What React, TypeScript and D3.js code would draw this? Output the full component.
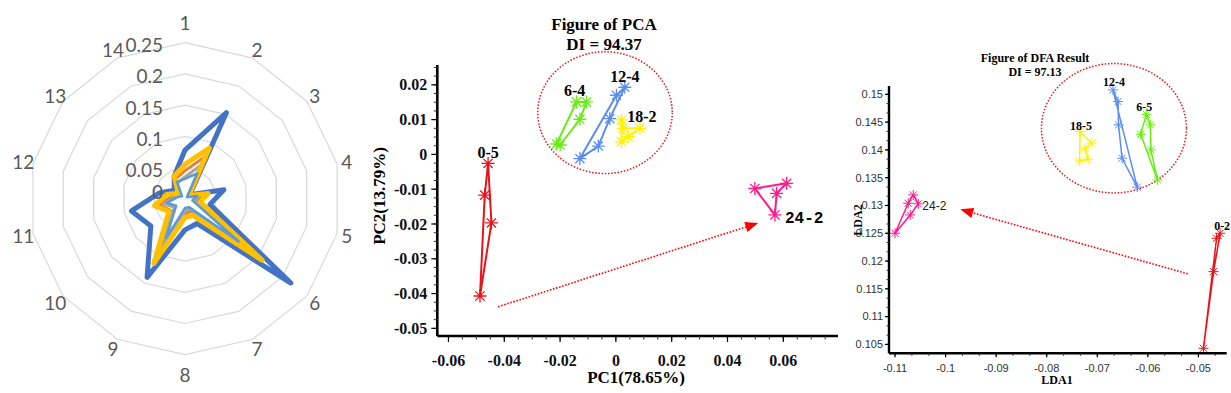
import React from 'react';
import * as d3 from 'd3';

// ---------- radar data ----------
const radarAxes = ['1', '2', '3', '4', '5', '6', '7', '8', '9', '10', '11', '12', '13', '14'];
const radarRings = [0, 0.05, 0.1, 0.15, 0.2, 0.25];
const radarRingLabels = ['0', '0.05', '0.1', '0.15', '0.2', '0.25'];
const radarBlue = [0.078, 0.153, 0.01, 0.064, 0.041, 0.217, 0.044, 0.05, 0.14, 0.07, 0.088, 0.042, 0.022, 0.04];
const radarOrange = [0.045, 0.075, 0.006, 0.03, 0.02, 0.145, 0.022, 0.025, 0.1, 0.03, 0.042, 0.02, 0.01, 0.035];
const radarGray = [0.035, 0.06, 0.005, 0.025, 0.015, 0.13, 0.018, 0.02, 0.088, 0.022, 0.035, 0.015, 0.008, 0.028];
const radarGold = [0.055, 0.09, 0.008, 0.038, 0.025, 0.158, 0.03, 0.03, 0.115, 0.033, 0.05, 0.03, 0.014, 0.04];
const radarLightBlue = [0.032, 0.045, 0.004, 0.02, 0.012, 0.11, 0.015, 0.015, 0.07, 0.018, 0.03, 0.012, 0.006, 0.03];

// ---------- PCA data ----------
const pcaXTicks = [-0.06, -0.04, -0.02, 0, 0.02, 0.04, 0.06];
const pcaYTicks = [0.02, 0.01, 0, -0.01, -0.02, -0.03, -0.04, -0.05];
const pca05 = [[-0.0458, -0.0026], [-0.047, -0.0117], [-0.0487, -0.0407], [-0.0446, -0.0197]];
const pca64 = [[-0.0141, 0.0151], [-0.0105, 0.0151], [-0.0129, 0.0101], [-0.02, 0.0027], [-0.0213, 0.003]];
const pca124 = [[-0.0129, -0.0012], [-0.0063, 0.0024], [-0.0022, 0.0103], [0.0032, 0.0193], [0.0002, 0.017]];
const pca182 = [[0.002, 0.0099], [0.0026, 0.0075], [0.0086, 0.0075], [0.0044, 0.0051], [0.002, 0.0036]];
const pca242 = [[0.0498, -0.0098], [0.0612, -0.0083], [0.0576, -0.0112], [0.057, -0.0174]];
const pcaArrow = [[-0.0422, -0.0438], [0.051, -0.0197]];
const pcaCircle = { cx: -0.0039, cy: 0.012, rx: 0.0241, ry: 0.0175 };

// ---------- DFA data ----------
const dfaXTicks = [-0.11, -0.1, -0.09, -0.08, -0.07, -0.06, -0.05];
const dfaYTicks = [0.15, 0.145, 0.14, 0.135, 0.13, 0.125, 0.12, 0.115, 0.11, 0.105];
const dfa242 = [[-0.11, 0.125], [-0.1074, 0.1304], [-0.1064, 0.1319], [-0.1054, 0.1303], [-0.107, 0.1283]];
const dfa02 = [[-0.049, 0.1043], [-0.047, 0.1181], [-0.0457, 0.125], [-0.0464, 0.1241]];
const dfa185 = [[-0.0734, 0.1433], [-0.0711, 0.1412], [-0.0724, 0.1403], [-0.0718, 0.1383], [-0.0735, 0.138]];
const dfa124 = [[-0.0669, 0.1508], [-0.0659, 0.1487], [-0.0658, 0.1445], [-0.0651, 0.1385], [-0.0621, 0.1333]];
const dfa65 = [[-0.0603, 0.1464], [-0.0595, 0.1445], [-0.0594, 0.14], [-0.0581, 0.1346], [-0.0614, 0.1428]];
const dfaArrow = [[-0.0521, 0.1177], [-0.0971, 0.1293]];
const dfaCircle = { cx: -0.0667, cy: 0.1439, rx: 0.01434, ry: 0.01164 };

const RED = '#E8141A', GREEN = '#66EE11', BLUE = '#5B8DEF', YELLOW = '#FFF200', PINK = '#FF1A8C';
const SERIF = '"Liberation Serif", "Times New Roman", serif';
const SANS = '"Liberation Sans", Arial, sans-serif';

function star(x: number, y: number, r: number) {
  const k = r * 0.7071;
  return `M${x - r},${y}h${2 * r}M${x},${y - r}v${2 * r}M${x - k},${y - k}l${2 * k},${2 * k}M${x - k},${y + k}l${2 * k},${-2 * k}`;
}

function Arrow({ a, b, color, head }: any) {
  const ang = Math.atan2(b[1] - a[1], b[0] - a[0]);
  const bx = b[0] - head * Math.cos(ang), by = b[1] - head * Math.sin(ang);
  const w = head * 0.4;
  const p1 = [bx + w * Math.sin(ang), by - w * Math.cos(ang)];
  const p2 = [bx - w * Math.sin(ang), by + w * Math.cos(ang)];
  return (
    <g>
      <line x1={a[0]} y1={a[1]} x2={bx} y2={by} stroke={color} strokeWidth={1.6} strokeDasharray="1.6,1.6" />
      <path d={`M${b[0]},${b[1]}L${p1[0]},${p1[1]}L${p2[0]},${p2[1]}Z`} fill={color} />
    </g>
  );
}

function Radar() {
  const cx = 185, cy = 198.7;
  const r = d3.scaleLinear().domain([0, 0.25]).range([0, 156]);
  const n = radarAxes.length;
  const ang = (i: number) => (i * 2 * Math.PI) / n;
  const line = d3.lineRadial<number>().angle((_, i) => ang(i)).radius((d) => r(d)).curve(d3.curveLinearClosed);
  const series = [
    { v: radarBlue, c: '#4472C4', w: 5 },
    { v: radarOrange, c: '#ED7D31', w: 3 },
    { v: radarGray, c: '#A5A5A5', w: 3 },
    { v: radarGold, c: '#FFC000', w: 5 },
    { v: radarLightBlue, c: '#5B9BD5', w: 2.5 },
  ];
  return (
    <g transform={`translate(${cx},${cy})`}>
      {radarRings.slice(1).map((v) => (
        <path key={v} d={line(radarAxes.map(() => v)) || ''} fill="none" stroke="#D9D9D9" strokeWidth={1.2} />
      ))}
      {series.map((s, k) => (
        <path key={k} d={line(s.v) || ''} fill="none" stroke={s.c} strokeWidth={s.w} strokeLinejoin="round" />
      ))}
      {radarRings.map((v, i) => (
        <text key={v} x={-22} y={Math.min(-r(v) + 2, -7)} textAnchor="end" dominantBaseline="central"
          fontFamily="Lato, sans-serif" fontSize={19} fill="#595959">{radarRingLabels[i]}</text>
      ))}
      {radarAxes.map((lab, i) => {
        const a = ang(i);
        const rr = 166 + (Math.abs(Math.cos(a)) > 0.99 ? 10 : 0);
        return (
          <text key={lab} x={rr * Math.sin(a)} y={-rr * Math.cos(a)} textAnchor="middle" dominantBaseline="central"
            fontFamily="Lato, sans-serif" fontSize={19} fill="#595959">{lab}</text>
        );
      })}
    </g>
  );
}

function Scatter({ x, y, xTicks, yTicks, xMinor, yMinor, groups, arrow, circle, cfg }: any) {
  const [x0, x1] = x.range();
  const [y0, y1] = y.range();
  const line = d3.line<number[]>().x((d) => x(d[0])).y((d) => y(d[1]));
  return (
    <g>
      <ellipse cx={x(circle.cx)} cy={y(circle.cy)} rx={x(circle.cx + circle.rx) - x(circle.cx)}
        ry={y(circle.cy) - y(circle.cy + circle.ry)} fill="none" stroke={RED} strokeWidth={1.5} strokeDasharray="1.5,1.7" />
      {groups.map((g: any) => (
        <g key={g.label}>
          <path d={(line(g.pts) || '') + 'Z'} fill="none" stroke={g.color} strokeWidth={cfg.lw} strokeLinejoin="round" />
          <path d={g.pts.map((p: number[]) => star(x(p[0]), y(p[1]), cfg.mr)).join('')} stroke={g.color} strokeWidth={cfg.mw} fill="none" />
          <text x={x(g.pts[g.li][0]) + g.dx} y={y(g.pts[g.li][1]) + g.dy} textAnchor={g.anchor}
            fontFamily={g.font} fontWeight={g.weight} fontSize={g.size} fill={g.fill}>{g.label}</text>
        </g>
      ))}
      <Arrow a={[x(arrow[0][0]), y(arrow[0][1])]} b={[x(arrow[1][0]), y(arrow[1][1])]} color="#FF0000" head={13} />
      {/* axes */}
      <line x1={x0} y1={y0} x2={x0} y2={y1} stroke="#000" strokeWidth={cfg.aw} />
      <line x1={x0} y1={y0} x2={x1} y2={y0} stroke="#000" strokeWidth={cfg.aw} />
      {xMinor.map((t: number, i: number) => (
        <line key={'xm' + i} x1={x(t)} x2={x(t)} y1={y0} y2={y0 + cfg.minorLen} stroke="#333" strokeWidth={1} />
      ))}
      {yMinor.map((t: number, i: number) => (
        <line key={'ym' + i} x1={x0} x2={x0 - cfg.minorLen} y1={y(t)} y2={y(t)} stroke="#333" strokeWidth={1} />
      ))}
      {xTicks.map((t: number) => (
        <g key={'x' + t}>
          <line x1={x(t)} x2={x(t)} y1={y0} y2={y0 + cfg.majorLen} stroke="#000" strokeWidth={1.2} />
          <text x={x(t)} y={y0 + cfg.xLabOff} textAnchor="middle" fontFamily={cfg.tickFont} fontWeight={cfg.tickWeight}
            fontSize={cfg.tickSize} fill={cfg.tickFill}>{String(t)}</text>
        </g>
      ))}
      {yTicks.map((t: number) => (
        <g key={'y' + t}>
          <line x1={x0} x2={x0 - cfg.majorLen} y1={y(t)} y2={y(t)} stroke="#000" strokeWidth={1.2} />
          <text x={x0 - cfg.yLabOff} y={y(t)} dy="0.35em" textAnchor="end" fontFamily={cfg.tickFont} fontWeight={cfg.tickWeight}
            fontSize={cfg.tickSize} fill={cfg.tickFill}>{String(t)}</text>
        </g>
      ))}
      <text x={cfg.title[0]} y={cfg.title[1]} textAnchor="middle" fontFamily={SERIF} fontWeight="bold" fontSize={cfg.titleSize}>
        {cfg.title[2]}
      </text>
      <text x={cfg.title[0]} y={cfg.title[1] + cfg.titleGap} textAnchor="middle" fontFamily={SERIF} fontWeight="bold" fontSize={cfg.titleSize}>
        {cfg.title[3]}
      </text>
      <text x={cfg.xLab[0]} y={cfg.xLab[1]} textAnchor="middle" fontFamily={SERIF} fontWeight="bold" fontSize={cfg.labSize}>{cfg.xLab[2]}</text>
      <text transform={`translate(${cfg.yLab[0]},${cfg.yLab[1]}) rotate(-90)`} textAnchor="middle" dominantBaseline="central"
        fontFamily={SERIF} fontWeight="bold" fontSize={cfg.labSize}>{cfg.yLab[2]}</text>
    </g>
  );
}

export default function App() {
  const pcx = d3.scaleLinear().domain([-0.064, 0.0796]).range([437.3, 838]);
  const pcy = d3.scaleLinear().domain([-0.0522, 0.0257]).range([336, 65]);
  const dfx = d3.scaleLinear().domain([-0.1112, -0.0444]).range([889, 1226.7]);
  const dfy = d3.scaleLinear().domain([0.1034, 0.1515]).range([353.3, 86]);

  const pcaLab = { font: SERIF, weight: 'bold', size: 16, fill: '#000' };
  const pcaGroups = [
    { label: '0-5', pts: pca05, color: RED, li: 0, dx: 0, dy: -5, anchor: 'middle', ...pcaLab },
    { label: '6-4', pts: pca64, color: GREEN, li: 0, dx: -2, dy: -6, anchor: 'middle', ...pcaLab },
    { label: '12-4', pts: pca124, color: BLUE, li: 3, dx: 0, dy: -5, anchor: 'middle', ...pcaLab },
    { label: '18-2', pts: pca182, color: YELLOW, li: 2, dx: 2, dy: -6, anchor: 'middle', ...pcaLab },
    { label: '24-2', pts: pca242, color: PINK, li: 3, dx: 10, dy: 8, anchor: 'start', ...pcaLab, font: '"Liberation Mono", monospace' },
  ];
  const dfaLab = { font: SERIF, weight: 'bold', size: 12, fill: '#000' };
  const dfaGroups = [
    { label: '24-2', pts: dfa242, color: PINK, li: 3, dx: 4, dy: 6, anchor: 'start', font: SANS, weight: 'normal', size: 12, fill: '#222' },
    { label: '0-2', pts: dfa02, color: RED, li: 2, dx: 2, dy: -3, anchor: 'middle', ...dfaLab },
    { label: '18-5', pts: dfa185, color: YELLOW, li: 0, dx: 1, dy: -2, anchor: 'middle', ...dfaLab },
    { label: '12-4', pts: dfa124, color: BLUE, li: 0, dx: 1, dy: -4, anchor: 'middle', ...dfaLab },
    { label: '6-5', pts: dfa65, color: GREEN, li: 0, dx: -2, dy: -3, anchor: 'middle', ...dfaLab },
  ];

  const pcaCfg = {
    lw: 2, mr: 6.5, mw: 1.3, aw: 2.6, majorLen: 6, minorLen: 3.5, xLabOff: 30, yLabOff: 10,
    tickFont: SERIF, tickWeight: 'bold', tickSize: 16, tickFill: '#111',
    title: [604, 30, 'Figure of PCA', 'DI = 94.37'], titleGap: 20, titleSize: 17,
    xLab: [636, 383, 'PC1(78.65%)'], yLab: [379, 196, 'PC2(13.79%)'], labSize: 17,
  };
  const dfaCfg = {
    lw: 1.5, mr: 5, mw: 1, aw: 2.4, majorLen: 4, minorLen: 2.5, xLabOff: 19, yLabOff: 6,
    tickFont: SANS, tickWeight: 'normal', tickSize: 11, tickFill: '#333',
    title: [1035, 62, 'Figure of DFA Result', 'DI = 97.13'], titleGap: 14, titleSize: 12,
    xLab: [1057, 384, 'LDA1'], yLab: [858, 220, 'LDA2'], labSize: 12,
  };

  return (
    <svg width={1231} height={393} style={{ position: 'absolute', left: 0, top: 0, background: '#fff' }}>
      <rect width={1231} height={393} fill="#fff" />
      <Radar />
      <Scatter x={pcx} y={pcy} xTicks={pcaXTicks} yTicks={pcaYTicks}
        xMinor={d3.range(-0.06, 0.0796, 0.005)} yMinor={d3.range(-0.05, 0.0257, 0.0025)}
        groups={pcaGroups} arrow={pcaArrow} circle={pcaCircle} cfg={pcaCfg} />
      <Scatter x={dfx} y={dfy} xTicks={dfaXTicks} yTicks={dfaYTicks}
        xMinor={d3.range(-0.11, -0.0444, 0.01 / 3)} yMinor={d3.range(0.105, 0.1515, 0.005 / 3)}
        groups={dfaGroups} arrow={dfaArrow} circle={dfaCircle} cfg={dfaCfg} />
    </svg>
  );
}
